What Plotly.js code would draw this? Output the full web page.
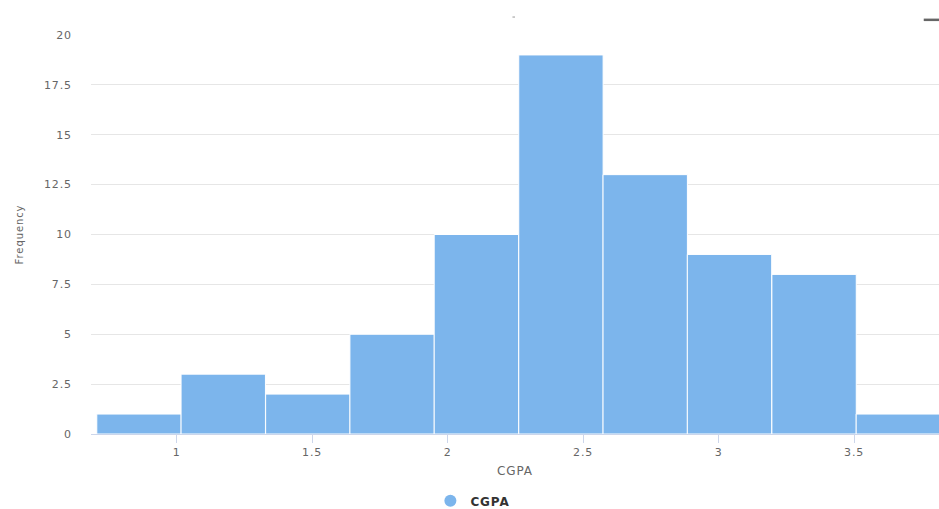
<!DOCTYPE html>
<html>
<head>
<meta charset="utf-8">
<script src="https://cdn.plot.ly/plotly-3.0.1.min.js"></script>
<style>
html,body{margin:0;padding:0;background:#fff;}
#chart{width:939px;height:509px;}
#chart text{letter-spacing:0.9px;}
</style>
</head>
<body>
<div id="chart"></div>
<script>
// Histogram of CGPA (bin centers, counts)
const binCenters = [0.861, 1.172, 1.484, 1.795, 2.106, 2.418, 2.729, 3.040, 3.352, 3.663];
const binWidth = 0.3113;
const counts = [1, 3, 2, 5, 10, 19, 13, 9, 8, 1];
const seriesName = "CGPA";
const xTickVals = [1, 1.5, 2, 2.5, 3, 3.5];
const xTickText = ["1", "1.5", "2", "2.5", "3", "3.5"];
const yTickVals = [0, 2.5, 5, 7.5, 10, 12.5, 15, 17.5, 20];
const yTickText = ["0", "2.5", "5", "7.5", "10", "12.5", "15", "17.5", "20"];

const barColor = "#7cb5ec";
const labelFont = {family: "DejaVu Sans, Verdana, sans-serif", size: 11, color: "#666666"};

const traces = [
  {
    type: "bar",
    x: binCenters,
    y: counts,
    width: binCenters.map(() => binWidth),
    marker: {color: barColor, line: {color: "#ffffff", width: 1}},
    showlegend: false,
    hoverinfo: "x+y",
    name: seriesName
  },
  {
    type: "scatter",
    mode: "markers",
    x: [null],
    y: [null],
    name: seriesName,
    marker: {color: barColor, size: 12, symbol: "circle"},
    showlegend: true
  }
];

const layout = {
  width: 939,
  height: 509,
  margin: {l: 91, r: 0, t: 35, b: 75, pad: 0},
  paper_bgcolor: "#ffffff",
  plot_bgcolor: "#ffffff",
  bargap: 0,
  font: labelFont,
  xaxis: {
    range: [0.684, 3.813],
    tickvals: xTickVals,
    ticktext: xTickText,
    ticks: "outside",
    ticklen: 8,
    tickwidth: 1,
    tickcolor: "#ccd6eb",
    showline: true,
    linecolor: "#ccd6eb",
    linewidth: 1,
    showgrid: false,
    zeroline: false,
    tickfont: labelFont,
    title: {text: "CGPA", font: {family: "DejaVu Sans, Verdana, sans-serif", size: 12, color: "#666666"}, standoff: 8},
    fixedrange: true
  },
  yaxis: {
    range: [0, 20],
    tickvals: yTickVals,
    ticktext: yTickText,
    ticks: "",
    ticklabelstandoff: 18,
    showgrid: true,
    gridcolor: "#e6e6e6",
    gridwidth: 1,
    zeroline: false,
    showline: false,
    tickfont: labelFont,
    title: {text: "Frequency", font: {family: "DejaVu Sans, Verdana, sans-serif", size: 10, color: "#666666"}, standoff: 22},
    fixedrange: true
  },
  legend: {
    orientation: "h",
    xref: "container",
    yref: "container",
    x: 0.502,
    y: 0.016,
    xanchor: "center",
    yanchor: "middle",
    font: {family: "DejaVu Sans, Verdana, sans-serif", size: 12, color: "#333333", weight: "bold"},
    itemwidth: 30
  },
  shapes: [
    {type: "line", xref: "paper", yref: "paper", x0: 0.982, x1: 1.0, y0: 1.038, y1: 1.038,
     line: {color: "#666666", width: 2.5}},
    {type: "line", xref: "paper", yref: "paper", x0: 0.497, x1: 0.5, y0: 1.045, y1: 1.045,
     line: {color: "#999999", width: 1}}
  ]
};

Plotly.newPlot("chart", traces, layout, {displayModeBar: false, staticPlot: true});
</script>
</body>
</html>
